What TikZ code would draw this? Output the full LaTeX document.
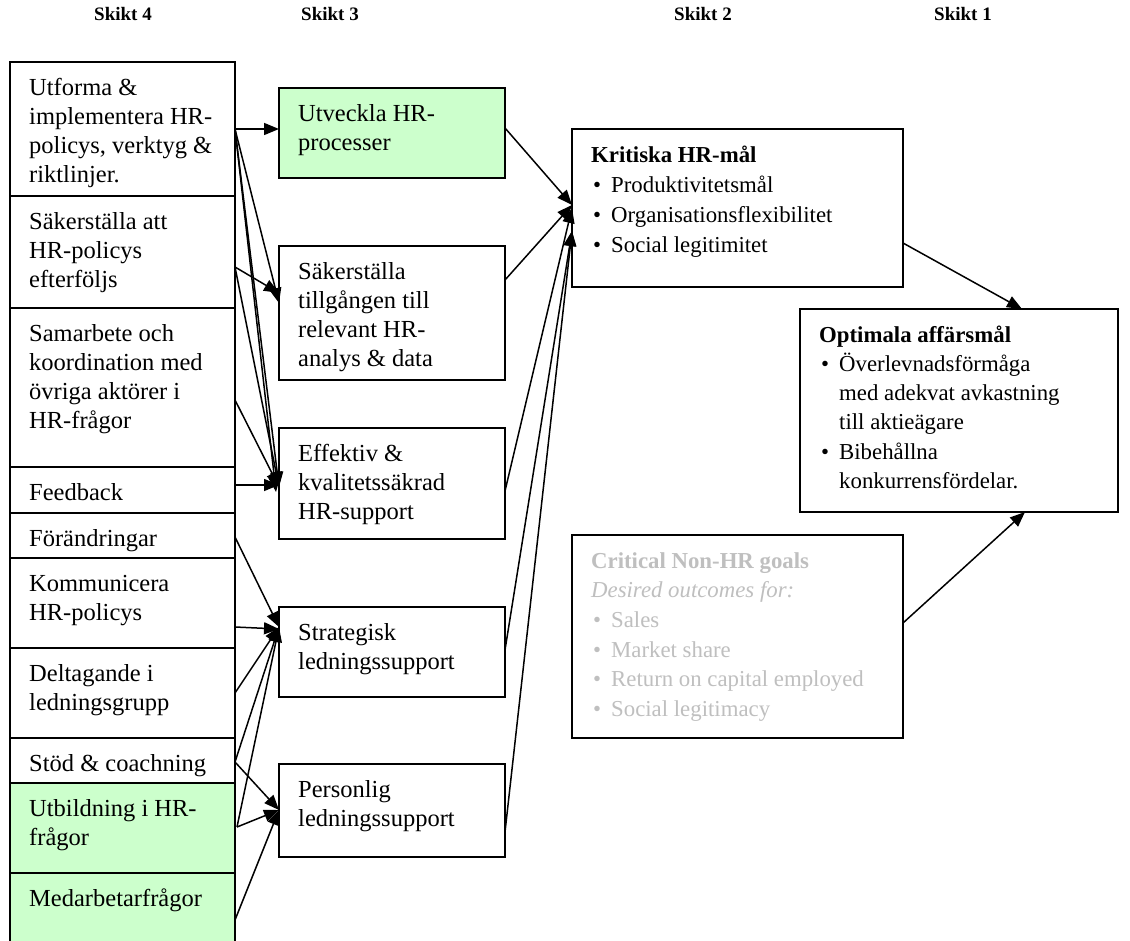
\documentclass[tikz,border=0pt]{standalone}
\usepackage{fontspec}
\setmainfont{Liberation Serif}
\usetikzlibrary{arrows.meta,calc}

\definecolor{palegreen}{HTML}{CCFFCC}
\definecolor{fadedtext}{HTML}{BFBFBF}

% first-line strut so every text block starts at the same baseline
\newcommand\topstrut{\rule{0pt}{20pt}}
\newcommand\bitem{\makebox[20pt][l]{\hspace{2pt}\textbullet}}
\newcommand\bcont{\hspace*{20pt}}

% box with its text set from the top left corner
% #1 name, #2-#5 corners, #6 box options, #7 text options, #8 text
\newcommand\mkbox[8]{%
  \node[box,#6,minimum width={#4-#2},minimum height={#5-#3}] (#1) at ({(#2+#4)/2},{(#3+#5)/2}) {};
  \node[txt,#7] (#1-t) at ($(#1.north west)+(19,13)$) {\topstrut#8};
}

\tikzset{
  box/.style={draw=black,line width=1.8pt,inner sep=0pt,outer sep=0pt},
  txt/.style={anchor=north west,inner sep=0pt,align=left,
              font=\fontsize{24.5}{29}\selectfont},
  small/.style={font=\fontsize{22.8}{#1}\selectfont},
  head/.style={anchor=base,inner sep=0pt,font=\fontsize{19}{22}\selectfont\bfseries},
  arr/.style={line width=1.5pt,-{Triangle[length=15pt,width=12pt]}},
}

\begin{document}
\begin{tikzpicture}[x=1pt,y=-1pt]
\useasboundingbox (0,0) rectangle (1130,941);

% column headings
\node[head] (h4) at (123,21) {Skikt 4};
\node[head] (h3) at (330,21) {Skikt 3};
\node[head] (h2) at (703,21) {Skikt 2};
\node[head] (h1) at (963,21) {Skikt 1};

% level 4: stacked activity boxes
\mkbox{utf}{10}{62}{235}{196}{fill=white}{}{Utforma \&\\implementera HR-\\policys, verktyg \&\\riktlinjer.}
\mkbox{sak}{10}{196}{235}{308}{fill=white}{}{Säkerställa att\\HR-policys\\efterföljs}
\mkbox{sam}{10}{308}{235}{467}{fill=white}{}{Samarbete och\\koordination med\\övriga aktörer i\\HR-frågor}
\mkbox{fee}{10}{467}{235}{513}{fill=white}{}{Feedback}
\mkbox{for}{10}{513}{235}{558}{fill=white}{}{Förändringar}
\mkbox{kom}{10}{558}{235}{648}{fill=white}{}{Kommunicera\\HR-policys}
\mkbox{del}{10}{648}{235}{738}{fill=white}{}{Deltagande i\\ledningsgrupp}
\mkbox{sto}{10}{738}{235}{783}{fill=white}{}{Stöd \& coachning}
\mkbox{utb}{10}{783}{235}{873}{fill=palegreen}{}{Utbildning i HR-\\frågor}
% last box runs off the lower edge: no bottom line
\node[box,draw=none,fill=palegreen,minimum width=225,minimum height=75] (med) at (122.5,910.5) {};
\draw[line width=1.8pt] (med.south west) -- (med.north west) -- (med.north east) -- (med.south east);
\node[txt] (med-t) at ($(med.north west)+(19,13)$) {\topstrut Medarbetarfrågor};

% level 3
\mkbox{utv}{279}{88}{505}{178}{fill=palegreen}{}{Utveckla HR-\\processer}
\mkbox{til}{279}{246}{505}{380}{fill=white}{}{Säkerställa\\tillgången till\\relevant HR-\\analys \& data}
\mkbox{eff}{279}{428}{505}{539}{fill=white}{}{Effektiv \&\\kvalitetssäkrad\\HR-support}
\mkbox{str}{279}{607}{505}{697}{fill=white}{}{Strategisk\\ledningssupport}
\mkbox{per}{279}{764}{505}{857}{fill=white}{}{Personlig\\ledningssupport}

% level 2 and level 1
\mkbox{krit}{572}{129}{903}{287}{fill=white}{small=30}{\textbf{Kritiska HR-mål}\\\bitem Produktivitetsmål\\\bitem Organisationsflexibilitet\\\bitem Social legitimitet}
\mkbox{opt}{800}{309}{1118}{512}{fill=white}{small=29.2}{\textbf{Optimala affärsmål}\\\bitem Överlevnadsförmåga\\\bcont med adekvat avkastning\\\bcont till aktieägare\\\bitem Bibehållna\\\bcont konkurrensfördelar.}
\mkbox{non}{572}{535}{903}{738}{fill=white}{small=29.6,text=fadedtext}{\color{fadedtext}\textbf{Critical Non-HR goals}\\\color{fadedtext}\textit{Desired outcomes for:}\\\color{fadedtext}\bitem Sales\\\color{fadedtext}\bitem Market share\\\color{fadedtext}\bitem Return on capital employed\\\color{fadedtext}\bitem Social legitimacy}

% level 4 -> level 3
\draw[arr] ($(utf.north east)+(0,67)$) -- ($(utv.north west)+(0,41)$);
\draw[arr] ($(utf.north east)+(0,67)$) -- ($(til.north west)+(0,57)$);
\draw[arr] ($(sak.north east)+(0,71)$) -- ($(til.north west)+(0,47)$);
\draw[arr] ($(utf.north east)+(0,67)$) -- ($(eff.north west)+(0,59)$);
\draw[arr] ($(utf.north east)+(0,67)$) -- ($(eff.north west)+(-3,64)$);
\draw[arr] ($(sak.north east)+(0,71)$) -- ($(eff.north west)+(0,59)$);
\draw[arr] ($(sam.north east)+(0,92)$) -- ($(eff.north west)+(0,59)$);
\draw[arr] ($(fee.north east)+(0,18)$) -- ($(eff.north west)+(0,57)$);
\draw[arr] ($(for.north east)+(0,24)$) -- ($(str.north west)+(0,20)$);
\draw[arr] ($(kom.north east)+(0,69)$) -- ($(str.north west)+(0,22)$);
\draw[arr] ($(del.north east)+(0,45)$) -- ($(str.north west)+(0,20)$);
\draw[arr] ($(sto.north east)+(0,24)$) -- ($(str.north west)+(0,20)$);
\draw[arr] ($(utb.north east)+(2,44)$) -- ($(str.north west)+(0,20)$);
\draw[arr] ($(sto.north east)+(0,24)$) -- ($(per.north west)+(0,46)$);
\draw[arr] ($(utb.north east)+(2,44)$) -- ($(per.north west)+(0,46)$);
\draw[arr] ($(med.north east)+(0,47)$) -- ($(per.north west)+(0,46)$);

% level 3 -> level 2
\draw[arr] ($(utv.north east)+(0,40)$) -- ($(krit.north west)+(0,76)$);
\draw[arr] ($(til.north east)+(0,34)$) -- ($(krit.north west)+(0,76)$);
\draw[arr] ($(eff.north east)+(0,63)$) -- ($(krit.north west)+(0,79)$);
\draw[arr] ($(str.north east)+(0,43)$) -- ($(krit.north west)+(0,102)$);
\draw[arr] ($(per.north east)+(0,68)$) -- ($(krit.north west)+(0,102)$);

% level 2 -> level 1
\draw[arr] ($(krit.north east)+(0,114)$) -- ($(opt.north west)+(222,0)$);
\draw[arr] ($(non.north east)+(0,88)$) -- ($(opt.south west)+(225,0)$);
\end{tikzpicture}
\end{document}
